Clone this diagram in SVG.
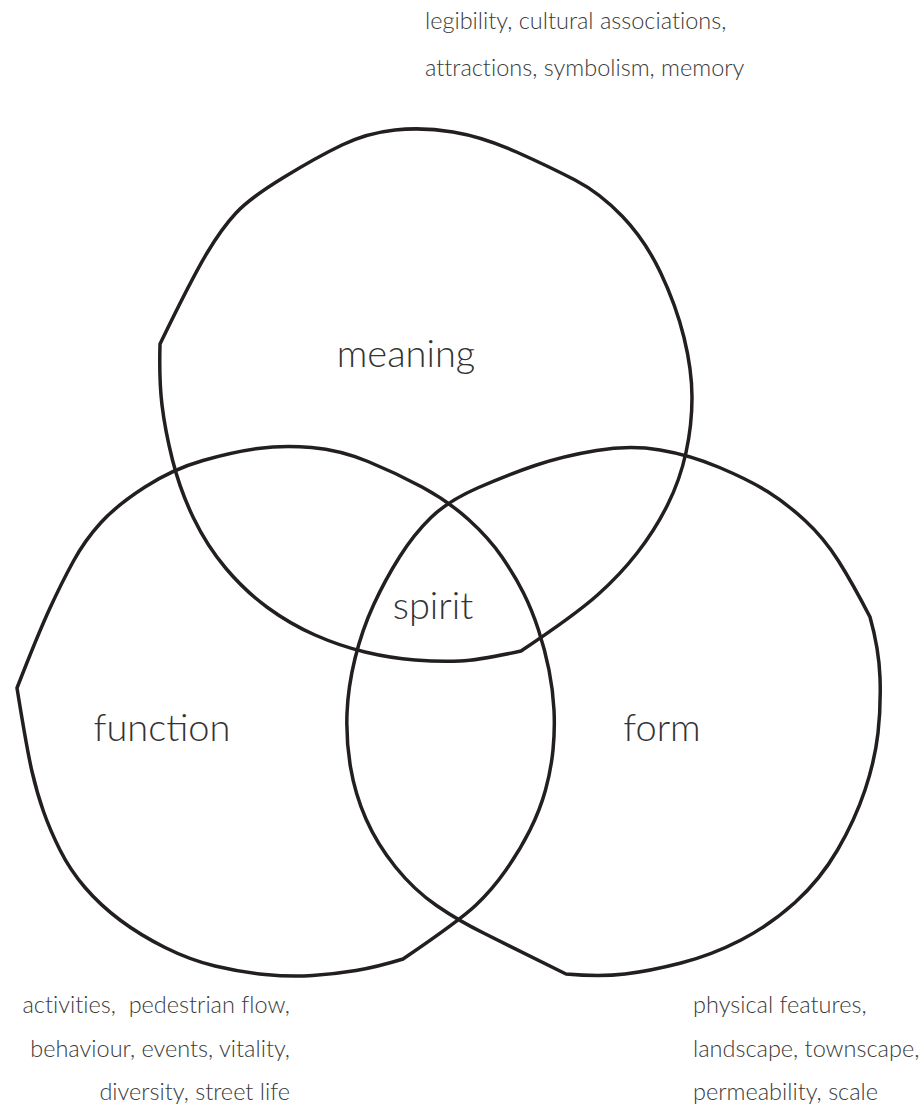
<svg xmlns="http://www.w3.org/2000/svg" width="922" height="1104" viewBox="0 0 922 1104">
<style>
.shape{fill:none;stroke:#231f20;stroke-width:3.5;stroke-linejoin:round}
.lbl{font-family:Lato,"Liberation Sans",sans-serif;font-weight:300;font-size:38px;fill:#333;text-anchor:middle}
.note{font-family:Lato,"Liberation Sans",sans-serif;font-weight:300;font-size:23.5px;fill:#3a3a3a;font-variant-ligatures:none}
</style>
<rect width="922" height="1104" fill="#fff"/>
<g id="connectors"></g>
<g id="meaning">
<path class="shape" d="M160,344 Q192,278 207,253 Q222,228 236,213 Q250,198 283.5,177.5 Q317,157 342,145 Q367,133 395,130 Q423,127 453,132 Q483,137 516.5,152 Q550,167 575,180 Q600,193 622.5,216.5 Q645,240 660.5,272.5 Q676,305 684,337.5 Q692,370 692,397.5 Q692,425 686,452.5 Q680,480 667.5,505 Q655,530 637.5,552.5 Q620,575 597.5,595 Q575,615 521,651 Q480,660 460,661 Q440,662 415,660 Q390,658 365,652 Q340,646 315,635 Q290,624 267.5,607.5 Q245,591 226,568.5 Q207,546 193.5,518 Q180,490 172.5,460 Q165,430 162,405 Q159,380 160,344 Z"/>
<text class="lbl" x="406" y="367">meaning</text>
<text class="note" x="425" y="29">legibility, cultural associations,</text>
<text class="note" x="425" y="76">attractions, symbolism, memory</text>
</g>
<g id="function">
<path class="shape" d="M17,688 Q38,634 50,608 Q62,582 73.5,561 Q85,540 101,522.5 Q117,505 145,487 Q173,469 203,460.5 Q233,452 258,448.5 Q283,445 311.5,447.5 Q340,450 368,461.5 Q396,473 422,487 Q448,501 468.5,519.5 Q489,538 502,557 Q515,576 523.5,593 Q532,610 538.5,630 Q545,650 549,670 Q553,690 554,710 Q555,730 553,750 Q551,770 545.5,790 Q540,810 530,830 Q520,850 506,870 Q492,890 475.5,905.5 Q459,921 403,959 Q377,967 356,970.5 Q335,974 312.5,975.5 Q290,977 265,974.5 Q240,972 215,966 Q190,960 165,947.5 Q140,935 120,920 Q100,905 85,887.5 Q70,870 60,850 Q50,830 43.5,811.5 Q37,793 32,771.5 Q27,750 17,688 Z"/>
<text class="lbl" x="162" y="741">function</text>
<text class="note" x="290" y="1013" text-anchor="end" xml:space="preserve">activities,  pedestrian flow,</text>
<text class="note" x="290" y="1057" text-anchor="end">behaviour, events, vitality,</text>
<text class="note" x="290" y="1100" text-anchor="end">diversity, street life</text>
</g>
<g id="form">
<path class="shape" d="M870,617 Q879,649 880,677.5 Q881,706 878,733 Q875,760 865,790 Q855,820 837.5,850 Q820,880 795,902.5 Q770,925 741,940 Q712,955 681,963 Q650,971 625,974 Q600,977 566,974 Q510,946 484.5,933.5 Q459,921 436.5,905.5 Q414,890 395.5,867 Q377,844 366,819 Q355,794 350.5,767 Q346,740 347,713.5 Q348,687 355,658.5 Q362,630 373.5,605 Q385,580 399.5,557 Q414,534 431,517.5 Q448,501 477.5,488 Q507,475 535,465.5 Q563,456 596.5,450.5 Q630,445 660,450 Q690,455 719.5,467.5 Q749,480 767.5,491.5 Q786,503 805,520.5 Q824,538 838.5,561 Q853,584 870,617 Z"/>
<text class="lbl" x="662" y="741">form</text>
<text class="note" x="693" y="1013">physical features,</text>
<text class="note" x="693" y="1057">landscape, townscape,</text>
<text class="note" x="693" y="1100">permeability, scale</text>
</g>
<g id="spirit">
<text class="lbl" x="433" y="619">spirit</text>
</g>
</svg>
